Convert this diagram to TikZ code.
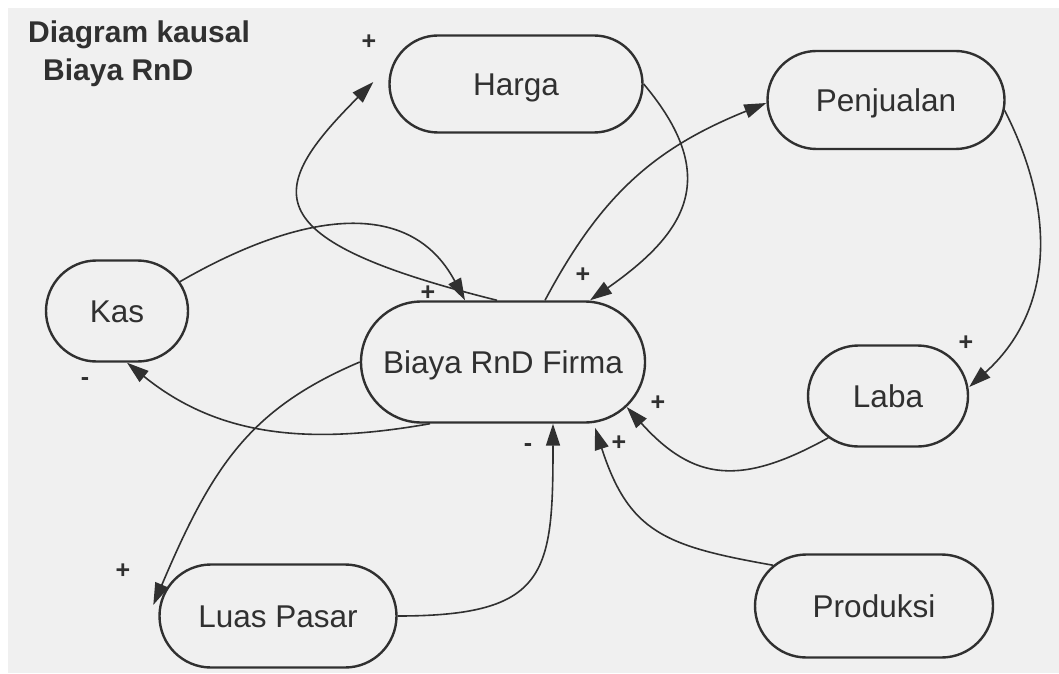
\documentclass[tikz,border=0pt]{standalone}
\usepackage{fontspec}
\setmainfont{Liberation Sans}
\usetikzlibrary{shapes.misc,arrows.meta}
\definecolor{ink}{HTML}{303030}
\definecolor{paper}{HTML}{F0F0F0}
\begin{document}
\begin{tikzpicture}[x=1pt,y=1pt,
  var/.style={rounded rectangle, draw=ink, line width=2.4pt, text=ink,
    inner sep=0pt, text height=22.5pt, text depth=0pt,
    font=\fontsize{31.5}{36}\selectfont},
  link/.style={draw=ink, line width=1.6pt,
    -{Triangle[length=22pt,width=14pt]}},
  sign/.style={text=ink, inner sep=0pt, font=\bfseries\fontsize{25}{25}\selectfont}]

% canvas
\useasboundingbox (0,0) rectangle (1059,673);
\fill[white] (0,0) rectangle (1059,673);
\fill[paper] (8,0) rectangle (1059,665);

% title
\node[anchor=north west, text=ink, align=left, inner sep=0pt,
      font=\bfseries\fontsize{30}{38}\selectfont]
  (title) at (28,652) {Diagram kausal\\\hspace*{15pt}Biaya RnD};

% variables
\node[var, minimum width=253pt, minimum height=97pt]  (harga)     at (516,589) {Harga};
\node[var, minimum width=284pt, minimum height=121pt] (biaya)     at (503,311) {Biaya RnD Firma};
\node[var, minimum width=142pt, minimum height=101pt] (kas)       at (117,362) {Kas};
\node[var, minimum width=237pt, minimum height=98pt]  (penjualan) at (886,573) {Penjualan};
\node[var, minimum width=160pt, minimum height=101pt] (laba)      at (888,277) {Laba};
\node[var, minimum width=237pt, minimum height=103pt] (luas)      at (278,57)  {Luas Pasar};
\node[var, minimum width=238pt, minimum height=103pt] (produksi)  at (874,67)  {Produksi};

% causal links
\draw[link] ([xshift=-6pt]biaya.north) .. controls +(166:250) and +(225:155) ..
            ([xshift=-15pt,yshift=2pt]harga.west);
\draw[link] (kas.25) .. controls +(30:135) and +(118:120) ..
            ([xshift=-38pt]biaya.north);
\draw[link] ([xshift=42pt]biaya.north) .. controls +(62:120) and +(202:120) ..
            ([yshift=-3pt]penjualan.west);
\draw[link] (harga.east) .. controls +(-50:120) and +(35:120) ..
            ([xshift=87pt]biaya.north);
\draw[link] ([xshift=-73pt]biaya.south) .. controls +(190:120) and +(-39:120) ..
            ([xshift=10pt]kas.south);
\draw[link] (biaya.west) .. controls +(203:120) and +(67:150) ..
            ([xshift=-5pt,yshift=11pt]luas.west);
\draw[link] (luas.east) .. controls +(0:150) and +(-90:150) ..
            ([xshift=50pt]biaya.south);
\draw[link] (laba.215) .. controls +(209:100) and +(-48:100) ..
            (biaya.-20);
\draw[link] (produksi.158) .. controls +(170:110) and +(-72:110) ..
            ([xshift=92pt,yshift=-4pt]biaya.south);
\draw[link] (penjualan.-5) .. controls +(-63:120) and +(42:110) ..
            ([yshift=9pt]laba.east);

% polarities
\node[sign] (s1) at (369,631) {+};
\node[sign] (s2) at (583,398) {+};
\node[sign] (s3) at (428,380) {+};
\node[sign] (s4) at (85,291)  {-};
\node[sign] (s5) at (966,330) {+};
\node[sign] (s6) at (658,270) {+};
\node[sign] (s7) at (528,225) {-};
\node[sign] (s8) at (619,230) {+};
\node[sign] (s9) at (123,102) {+};
\end{tikzpicture}
\end{document}
